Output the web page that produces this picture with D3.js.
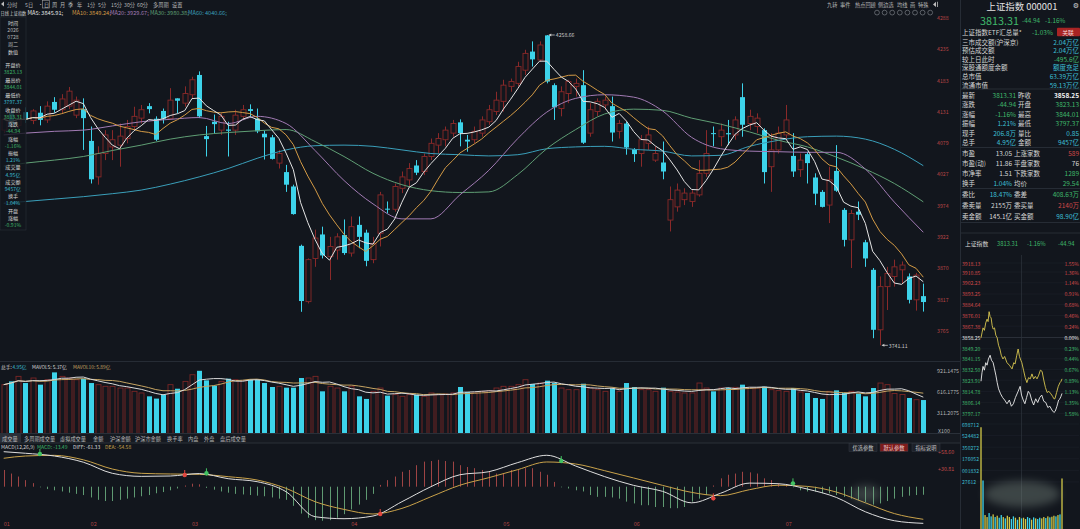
<!DOCTYPE html>
<html>
<head>
<meta charset="utf-8">
<title>上证指数 000001</title>
<script src="https://cdn.jsdelivr.net/npm/d3@7/dist/d3.min.js"></script>
<style>
  body { margin: 0; background: #12161d; overflow: hidden; }
  svg { display: block; font-family: "Noto Sans CJK SC", "Noto Sans", sans-serif; }
</style>
</head>
<body>
<svg id="chart"></svg>
<script>
// ---------- data (daily bars, first bar sits under the info box) ----------
let firstDay = -11;

// [open, high, low, close]
let candles = [
  [4100, 4125, 4095, 4118], [4128, 4135, 4105, 4110], [4108, 4130, 4102, 4126], [4130, 4138, 4112, 4118],
  [4116, 4135, 4110, 4132], [4129, 4140, 4108, 4117], [4117, 4148, 4112, 4140], [4147, 4155, 4129, 4134],
  [4134, 4160, 4128, 4152], [4140, 4172, 4135, 4165], [4125, 4156, 4120, 4150],
  [4135, 4153, 4067, 4120], [4082, 4106, 4011, 4018], [4022, 4073, 4009, 4061], [4061, 4100, 4050, 4092],
  [4072, 4100, 4050, 4084], [4075, 4111, 4039, 4090], [4086, 4117, 4078, 4106], [4106, 4139, 4100, 4123],
  [4120, 4142, 4111, 4134], [4140, 4145, 4128, 4135], [4119, 4123, 4082, 4084], [4132, 4136, 4111, 4119],
  [4119, 4170, 4117, 4150], [4153, 4153, 4128, 4149], [4145, 4173, 4139, 4161], [4159, 4189, 4153, 4184],
  [4192, 4198, 4120, 4123], [4090, 4107, 4056, 4085], [4114, 4126, 4095, 4110], [4100, 4128, 4092, 4123],
  [4101, 4114, 4056, 4099], [4100, 4134, 4092, 4125], [4123, 4142, 4117, 4134], [4135, 4143, 4123, 4132],
  [4119, 4136, 4095, 4098], [4094, 4099, 4051, 4088], [4088, 4092, 4051, 4052], [4045, 4067, 4036, 4061],
  [4030, 4042, 3997, 4009], [4006, 4009, 3959, 3960], [3907, 3909, 3797, 3815], [3814, 3886, 3811, 3884],
  [3886, 3934, 3872, 3920], [3926, 3939, 3886, 3891], [3889, 3922, 3850, 3906], [3900, 3928, 3884, 3922],
  [3925, 3951, 3892, 3895], [3895, 3956, 3889, 3939], [3942, 3956, 3903, 3922], [3929, 3934, 3873, 3882],
  [3884, 3922, 3878, 3911], [3928, 3997, 3906, 3992], [3969, 3981, 3961, 3968], [3968, 4011, 3964, 4006],
  [4003, 4031, 3995, 4022], [4017, 4045, 4006, 4036], [4041, 4050, 4025, 4029], [4031, 4061, 4025, 4056],
  [4056, 4086, 4050, 4078], [4075, 4095, 4061, 4086], [4084, 4106, 4073, 4100], [4095, 4117, 4089, 4111],
  [4113, 4118, 4073, 4095], [4084, 4092, 4064, 4081], [4084, 4106, 4078, 4098], [4095, 4123, 4089, 4117],
  [4114, 4142, 4109, 4134], [4131, 4164, 4125, 4150], [4148, 4184, 4131, 4175], [4173, 4186, 4164, 4181],
  [4178, 4214, 4173, 4206], [4200, 4234, 4192, 4228], [4231, 4248, 4206, 4218], [4217, 4248, 4214, 4242],
  [4258, 4258.66, 4178, 4181], [4175, 4178, 4117, 4138], [4136, 4173, 4123, 4164], [4161, 4184, 4145, 4181],
  [4173, 4186, 4156, 4178], [4175, 4200, 4077, 4079], [4095, 4145, 4089, 4134], [4131, 4153, 4123, 4148],
  [4142, 4156, 4134, 4150], [4140, 4156, 4081, 4096], [4098, 4117, 4086, 4111], [4111, 4114, 4059, 4071],
  [4068, 4070, 4047, 4060], [4061, 4092, 4039, 4084], [4078, 4106, 4067, 4092], [4050, 4073, 4047, 4061],
  [4046, 4081, 4018, 4031], [3950, 4006, 3931, 3984], [3972, 4011, 3964, 4000], [3984, 4003, 3975, 3995],
  [3981, 4000, 3972, 3995], [3992, 4050, 3989, 4028], [4028, 4100, 4022, 4061], [4095, 4106, 4073, 4094],
  [4089, 4111, 4073, 4100], [4095, 4117, 4075, 4093], [4092, 4123, 4084, 4117], [4155, 4178, 4089, 4109],
  [4111, 4134, 4100, 4123], [4106, 4128, 4095, 4120], [4100, 4103, 4011, 4030], [4039, 4095, 3997, 4067],
  [4067, 4106, 4061, 4095], [4092, 4142, 4084, 4117], [4057, 4095, 4022, 4031], [4034, 4061, 4022, 4050],
  [4060, 4064, 4011, 4045], [4021, 4028, 3975, 3994], [3997, 4000, 3971, 3972], [3975, 4039, 3945, 4017],
  [4032, 4075, 3997, 3999], [3967, 3970, 3906, 3917], [3917, 3967, 3870, 3961], [3964, 3981, 3950, 3959],
  [3913, 3917, 3872, 3886], [3867, 3870, 3753, 3767], [3767, 3856, 3741.11, 3839], [3839, 3872, 3800, 3861],
  [3856, 3884, 3839, 3872], [3867, 3881, 3845, 3875], [3856, 3861, 3811, 3817], [3817, 3862, 3799, 3858.25],
  [3823.13, 3844.01, 3797.37, 3813.31]
];

// volume, 百万股 (axis shows x100)
let volumes = [
  719, 767, 840, 743, 816, 719, 791, 898, 840, 816,
  791, 806, 743, 719, 695, 695, 670, 670, 622, 598,
  549, 516, 574, 719, 660, 767, 864, 921.15, 782, 704,
  767, 806, 791, 777, 791, 791, 743, 685, 695, 675,
  675, 816, 816, 840, 622, 695, 670, 622, 695, 549,
  511, 622, 670, 559, 574, 549, 574, 574, 549, 598,
  574, 583, 598, 685, 612, 598, 622, 632, 670, 695,
  695, 719, 791, 728, 743, 777, 743, 670, 646, 646,
  733, 670, 646, 622, 666, 622, 743, 685, 646, 646,
  622, 675, 622, 612, 598, 598, 743, 670, 622, 670,
  670, 680, 719, 670, 670, 690, 646, 632, 622, 670,
  612, 598, 525, 511, 622, 636, 598, 622, 588, 549,
  670, 743, 719, 590, 575, 525, 500, 495
];

// MACD histogram
let macdBars = [
  28, 22, 17, 11, 6, -1, -4, -6, -8, -10,
  -12, -14, -18, -22, -24, -24, -22, -20, -18, -16,
  -14, -11, -9, -6, -3, 2, 5, 4, -2, -5,
  -8, -10, -12, -13, -14, -15, -16, -18, -20, -22,
  -32, -45, -52, -56, -57, -56, -52, -46, -38, -30,
  -22, -12, 3, 11, 17, 25, 28, 36, 42, 43,
  45, 43, 42, 36, 33, 31, 28, 25, 22, 22,
  28, 28, 31, 31, 25, 20, 8, -1, -3, -6,
  -8, -14, -17, -17, -18, -20, -25, -28, -31, -31,
  -34, -34, -36, -36, -34, -25, -20, -14, 2, 14,
  20, 22, 25, 24, 22, 14, 11, 6, 3, -1,
  -6, -8, -8, -11, -11, -14, -17, -20, -23, -26,
  -30, -28, -24, -20, -17, -15, -14, -13.49
];

// long averages and MACD lines, read every 4th session
let sampleDays = [-11, -8, -4, 0, 4, 8, 12, 16, 20, 24, 28, 32, 36, 40, 44, 48, 52, 56,
  60, 64, 68, 72, 76, 80, 84, 88, 92, 96, 100, 104, 108, 112, 116];
let ma20 = [4092, 4095, 4098, 4100, 4107, 4114, 4118, 4121, 4111, 4123, 4111, 4066, 4016, 3977, 3952, 3952, 3992,
  4033, 4086, 4130, 4153, 4159, 4155, 4132, 4088, 4069, 4065, 4064, 4063, 4063, 4035, 3980, 3929.67];
let ma30 = [4040, 4045, 4050, 4056, 4066, 4075, 4085, 4092, 4096, 4099, 4101, 4081, 4056, 4028, 4009, 3999, 3996,
  3997, 4026, 4069, 4101, 4127, 4135, 4133, 4120, 4110, 4097, 4083, 4072, 4055, 4035, 4011, 3980.38];
let ma60 = [3978, 3981, 3985, 3989, 3994, 4000, 4010, 4022, 4036, 4053, 4067, 4074, 4075, 4073, 4067, 4061, 4059,
  4057, 4059, 4069, 4072, 4073, 4068, 4065, 4057, 4058, 4073, 4083, 4089, 4090, 4085, 4068, 4040.66];
let diffLine = [58.6, 56, 51.4, 41, 22.4, 17.3, 17.9, 22, 13.4, 8.4, -8.4, -50.3, -53.6, -49.1, -25.1, 0, 20,
  25.1, 40.4, 52.6, 34.6, 16.8, 2.2, -7.8, -27, -11, 6, 5, -4, -18, -42, -57, -61.33];
let deaLine = [47.6, 51.4, 52.5, 45, 29.6, 22.4, 21.3, 20.7, 16.8, 11.2, -2.8, -25.1, -38, -45.7, -36.3, -16.8, 2.5,
  15.1, 28.6, 41.4, 38, 26.8, 14.6, 2.2, -9.5, -15, -5, 2.5, 0.5, -9, -27, -45, -54.58];

// golden / dead crosses
let crossDays = [-6, 14, 17, 41, 66, 87, 98];
let crossVals = [54.8, 19.6, 22.4, -45.7, 43, -19.5, 5.6];
let crossUp = [false, true, false, true, false, true, false];

let monthDays = [-11, 1, 15, 37, 58, 76, 97];
let monthLabels = ["01", "02", "03", "04", "05", "06", "07"];

let priceTicks = [4288, 4235, 4183, 4131, 4079, 4027, 3974, 3922, 3870, 3817, 3765];
let volTicks = [921.1475, 616.1775, 311.2075];
let macdTicks = [58.60, 30.81];

// intraday (minute, index)
let preClose = 3858.25;
let whiteMinutes = [[0, 3823.1], [3, 3830], [6, 3835], [10, 3832], [14, 3838], [18, 3836], [22, 3841], [27, 3844],
  [31, 3840], [36, 3838], [40, 3833], [44, 3828], [48, 3822], [52, 3817], [58, 3813], [64, 3810], [70, 3808],
  [77, 3805], [84, 3808], [90, 3803], [96, 3805], [102, 3810], [110, 3815], [116, 3819], [120, 3812], [125, 3808],
  [130, 3805], [135, 3810], [140, 3815], [145, 3813], [150, 3808], [156, 3804], [162, 3809], [168, 3806],
  [174, 3810], [180, 3812], [186, 3807], [192, 3806], [198, 3802], [204, 3803], [210, 3800], [216, 3798],
  [220, 3799], [225, 3803], [230, 3808], [234, 3809], [237, 3811], [240, 3813.31]];
let yellowMinutes = [[0, 3858], [3, 3862], [6, 3866], [10, 3864], [14, 3870], [18, 3873], [21, 3871], [24, 3879],
  [27, 3875], [30, 3874], [33, 3868], [36, 3865], [40, 3866], [44, 3860], [48, 3858], [52, 3852], [56, 3849],
  [60, 3844], [65, 3841], [70, 3843], [77, 3838], [84, 3836], [92, 3833], [97, 3838], [101, 3837], [106, 3844],
  [110, 3849], [114, 3843], [118, 3840], [121, 3838], [126, 3832], [131, 3826], [136, 3822], [141, 3826],
  [146, 3825], [151, 3829], [156, 3825], [161, 3827], [166, 3825], [171, 3828], [176, 3832], [181, 3831],
  [186, 3824], [191, 3818], [196, 3814], [201, 3815], [207, 3813], [212, 3811], [216, 3809], [219, 3809],
  [224, 3814], [229, 3819], [234, 3822], [237, 3823], [240, 3825]];
let miniVolumes = [1650000, 850000, 330000, 300000, 360000, 310000, 340000, 300000, 320000, 290000, 330000,
  300000, 280000, 320000, 300000, 270000, 310000, 290000, 260000, 300000, 280000, 290000, 270000, 300000,
  285000, 260000, 295000, 280000, 270000, 290000, 280000, 300000, 285000, 310000, 295000, 305000, 320000,
  310000, 330000, 340000, 880000];
let miniUp = [1, 0, 1, 1, 0, 0, 1, 0, 1, 0, 0, 1, 0, 1, 1, 0, 0, 1, 0, 1, 0, 1, 1, 0, 0, 1, 0, 1, 0, 0, 1, 1, 0,
  1, 0, 1, 1, 0, 1, 0, 1];
let miniPriceLabels = [3918.13, 3910.85, 3902.23, 3893.25, 3884.64, 3876.01, 3867.38, 3858.25, 3849.20, 3841.15,
  3832.50, 3823.91, 3814.78, 3806.14, 3797.17];
let miniPctLabels = ["1.55%", "1.36%", "1.14%", "0.91%", "0.68%", "0.46%", "0.24%", "0.00%", "0.23%", "0.44%",
  "0.67%", "0.89%", "1.13%", "1.35%", "1.58%"];
let miniVolLabels = [1698712, 1524482, 1350272, 1176052, 1001832, 827612];

// text blocks
let toolbarLeft = ["分时", "5日", "·", "日", "周", "月", "季", "年", "1分", "5分", "15分", "30分", "60分", "多周期", "设置"];
let toolbarRight = ["九转", "事件", "热点回顾", "侧边选", "均线", "画", "特殊"];
let maHeader = ["MA5: 3845.91;", "MA10: 3849.24;", "MA20: 3929.67;", "MA30: 3980.38;", "MA60: 4040.66;"];
let infoRows = ["时间", "2026", "0728", "周二", "数值", "开盘价", "3823.13", "最高价", "3844.01", "最低价", "3797.37",
  "收盘价", "3813.31", "涨跌", "-44.94", "涨幅", "-1.16%", "振幅", "1.21%", "成交量", "4.95亿", "成交额", "9457亿",
  "换手", "1.04%", "开盘", "涨幅", "-0.91%"];
let volTabs = ["成交量", "多周期成交量", "虚拟成交量", "金额", "沪深金额", "沪深市金额", "换手率", "内盘", "外盘", "盘后成交量"];
let summaryRows = [
  ["上证指数ETF汇总量*", "-1.03%"], ["三市成交额(沪深京)", "2.04万亿"], ["预估成交额", "2.04万亿"],
  ["较上日此时", "-495.6亿"], ["深股通额度余额", "额度充足"], ["总市值", "63.39万亿"], ["流通市值", "59.13万亿"]
];
let quoteRows = [
  ["最新", "3813.31", "昨收", "3858.25"], ["涨跌", "-44.94", "开盘", "3823.13"], ["涨幅", "-1.16%", "最高", "3844.01"],
  ["振幅", "1.21%", "最低", "3797.37"], ["现手", "206.8万", "量比", "0.85"], ["总手", "4.95亿", "金额", "9457亿"]
];
let valuationRows = [
  ["市盈", "13.05", "上涨家数", "589"], ["市盈(动)", "11.86", "平盘家数", "76"],
  ["市净率", "1.51", "下跌家数", "1289"], ["换手", "1.04%", "均价", "29.54"]
];
let orderRows = [
  ["委比", "18.47%", "委差", "408.63万"], ["委卖量", "2155万", "委买量", "2140万"], ["卖金额", "145.1亿", "买金额", "98.90亿"]
];

// ---------- drawing ----------
let width = 1080;
let height = 529;
let FONT = '"Noto Sans CJK SC", "Noto Sans", sans-serif';
let BG = "#12161d";
let CYAN = "#3dd3ea";
let RED = "#8a2929";
let GREEN = "#3fb86b";
let TEAL = "#3cbfd4";
let WHITE = "#d6d6d6";
let UPRED = "#d04848";

let svg = d3.select("#chart").attr("width", width).attr("height", height);
svg.append("rect").attr("width", width).attr("height", height).attr("fill", BG);

let defs = svg.append("defs");
defs.append("clipPath").attr("id", "mainClip").append("rect")
  .attr("x", 0).attr("y", 15).attr("width", 935).attr("height", 346);
defs.append("filter").attr("id", "blur").attr("x", "-50%").attr("y", "-50%").attr("width", "200%").attr("height", "200%")
  .append("feGaussianBlur").attr("stdDeviation", 4);

let label = (g, x, y, s, fill, size, anchor) =>
  g.append("text").attr("x", x).attr("y", y).attr("fill", fill).attr("font-size", size)
    .attr("text-anchor", anchor || "start").attr("dominant-baseline", "central").text(s);

let day = (i) => i + firstDay;
let isDown = (i) => candles[i][3] < candles[i][0];

// scales
let xScale = d3.scaleLinear().domain([-11, 116]).range([3.7, 923.3]);
let yPrice = d3.scaleLinear().domain([3765, 4288]).range([331, 17.4]);
let yVol = d3.scaleLinear().domain([0, 921.1475]).range([434, 370.8]);
let yMacd = d3.scaleLinear().domain([0, 58.6]).range([486.7, 451.7]);

let rollMean = (arr, n) => arr.map((v, i) => d3.mean(arr.slice(Math.max(0, i - n + 1), i + 1)));
let closes = candles.map((d) => d[3]);

// ---- main candle panel ----
let mainG = svg.append("g").attr("clip-path", "url(#mainClip)");

mainG.selectAll(".wick").data(candles).enter().append("line")
  .attr("x1", (d, i) => Math.round(xScale(day(i))) + 0.5)
  .attr("x2", (d, i) => Math.round(xScale(day(i))) + 0.5)
  .attr("y1", (d) => yPrice(d[1]))
  .attr("y2", (d) => yPrice(d[2]))
  .attr("stroke", (d, i) => (isDown(i) ? CYAN : RED))
  .attr("stroke-width", 1);

mainG.selectAll(".body").data(candles).enter().append("rect")
  .attr("x", (d, i) => Math.round(xScale(day(i))) - 2)
  .attr("width", 5)
  .attr("y", (d) => yPrice(Math.max(d[0], d[3])))
  .attr("height", (d) => Math.max(1, Math.abs(yPrice(d[0]) - yPrice(d[3]))))
  .attr("fill", (d, i) => (isDown(i) ? CYAN : BG))
  .attr("stroke", (d, i) => (isDown(i) ? CYAN : RED))
  .attr("stroke-width", (d, i) => (isDown(i) ? 0 : 0.9));

let linePts = d3.line().x((d) => xScale(d[0])).y((d) => yPrice(d[1]));
let ma5 = rollMean(closes, 5);
let ma10 = rollMean(closes, 10);

let drawSampled = (vals, color) => {
  mainG.append("path")
    .datum(sampleDays.map((k, i) => [k, vals[i]]))
    .attr("d", linePts.curve(d3.curveMonotoneX))
    .attr("fill", "none").attr("stroke", color).attr("stroke-width", 1);
};
drawSampled(ma60, "#3a9fba");
drawSampled(ma30, "#5f9e74");
drawSampled(ma20, "#a27bb4");

mainG.append("path")
  .datum(ma10.map((v, i) => [day(i), v]))
  .attr("d", linePts.curve(d3.curveLinear))
  .attr("fill", "none").attr("stroke", "#d39a45").attr("stroke-width", 1);
mainG.append("path")
  .datum(ma5.map((v, i) => [day(i), v]))
  .attr("d", linePts.curve(d3.curveLinear))
  .attr("fill", "none").attr("stroke", "#e4e4e4").attr("stroke-width", 1);

// extreme price marks
let hiI = d3.maxIndex(candles, (d) => d[1]);
let loI = d3.minIndex(candles, (d) => d[2]);
[[hiI, candles[hiI][1]], [loI, candles[loI][2]]].forEach(([i, v]) => {
  let cx = xScale(day(i));
  let cy = yPrice(v);
  svg.append("line").attr("x1", cx + 2).attr("x2", cx + 8).attr("y1", cy).attr("y2", cy)
    .attr("stroke", "#c8c8c8").attr("stroke-width", 0.8);
  svg.append("path").attr("d", `M${cx + 2},${cy} l2.5,-1.5 v3 z`).attr("fill", "#c8c8c8");
  label(svg, cx + 9, cy, v.toFixed(2), "#c8c8c8", 5.2);
});

// price axis
svg.append("g").attr("transform", "translate(937,0)")
  .call(d3.axisRight(yPrice).tickValues(priceTicks).tickSize(0).tickPadding(0).tickFormat(d3.format("d")))
  .call((g) => g.select(".domain").remove())
  .attr("font-family", FONT).attr("font-size", 5.2)
  .call((g) => g.selectAll("text").attr("fill", "#b84545"));

// ---- separators ----
svg.append("line").attr("x1", 0).attr("x2", 960).attr("y1", 361.5).attr("y2", 361.5).attr("stroke", "#262c35");
svg.append("line").attr("x1", 960.5).attr("x2", 960.5).attr("y1", 0).attr("y2", height).attr("stroke", "#262c35");

// ---- volume panel ----
let volG = svg.append("g");
volG.selectAll("rect").data(volumes).enter().append("rect")
  .attr("x", (d, i) => Math.round(xScale(day(i))) - 2)
  .attr("width", 5)
  .attr("y", (d) => yVol(d))
  .attr("height", (d) => yVol(0) - yVol(d))
  .attr("fill", (d, i) => (isDown(i) ? CYAN : "none"))
  .attr("stroke", (d, i) => (isDown(i) ? "none" : "#7c2626"))
  .attr("stroke-width", 0.9);

let volLine = d3.line().x((d, i) => xScale(day(i))).y((d) => yVol(d));
volG.append("path").datum(rollMean(volumes, 10)).attr("d", volLine)
  .attr("fill", "none").attr("stroke", "#c6a462").attr("stroke-width", 1);
volG.append("path").datum(rollMean(volumes, 5)).attr("d", volLine)
  .attr("fill", "none").attr("stroke", "#d8d8d8").attr("stroke-width", 1);

svg.append("g").attr("transform", "translate(937,0)")
  .call(d3.axisRight(yVol).tickValues(volTicks).tickSize(0).tickPadding(0).tickFormat((d) => d.toFixed(4)))
  .call((g) => g.select(".domain").remove())
  .attr("font-family", FONT).attr("font-size", 5.3)
  .call((g) => g.selectAll("text").attr("fill", "#b5b5b5"));
label(svg, 938, 431, "X100", "#b5b5b5", 5.3);

label(svg, 1, 366.5, "总手:", WHITE, 4.8);
label(svg, 12.5, 366.5, "4.95亿", TEAL, 4.8);
label(svg, 32, 366.5, "MAVOL5: 5.37亿", "#d8d8d8", 4.8);
label(svg, 73, 366.5, "MAVOL10: 5.89亿", "#c6a462", 4.8);

// tab row
svg.append("rect").attr("x", 0).attr("y", 433.5).attr("width", 960).attr("height", 9.5).attr("fill", "#161a21");
svg.append("line").attr("x1", 0).attr("x2", 960).attr("y1", 433.5).attr("y2", 433.5).attr("stroke", "#2a3039");
svg.append("line").attr("x1", 0).attr("x2", 960).attr("y1", 443).attr("y2", 443).attr("stroke", "#2a3039");
let tabX = [2, 24, 60, 93, 110, 135, 167, 188, 204, 220];
svg.append("rect").attr("x", 0).attr("y", 434).attr("width", 21).attr("height", 8.5).attr("fill", "#2b3039");
volTabs.forEach((t, i) => label(svg, tabX[i], 438.3, t, "#bcbcbc", 5.2));

// ---- MACD panel ----
let macdG = svg.append("g");
macdG.selectAll("line").data(macdBars).enter().append("line")
  .attr("x1", (d, i) => Math.round(xScale(day(i))) + 0.5)
  .attr("x2", (d, i) => Math.round(xScale(day(i))) + 0.5)
  .attr("y1", yMacd(0))
  .attr("y2", (d) => yMacd(d))
  .attr("stroke", (d) => (d >= 0 ? "#9e4444" : "#5f9a72"))
  .attr("stroke-width", 1);

let macdLine = d3.line().x((d) => xScale(d[0])).y((d) => yMacd(d[1])).curve(d3.curveMonotoneX);
macdG.append("path").datum(sampleDays.map((k, i) => [k, deaLine[i]])).attr("d", macdLine)
  .attr("fill", "none").attr("stroke", "#c9a24a").attr("stroke-width", 1);
macdG.append("path").datum(sampleDays.map((k, i) => [k, diffLine[i]])).attr("d", macdLine)
  .attr("fill", "none").attr("stroke", "#dedede").attr("stroke-width", 1);

crossDays.forEach((k, i) => {
  let cx = xScale(k);
  let cy = yMacd(crossVals[i]);
  let c = crossUp[i] ? "#e0463e" : "#43c262";
  macdG.append("line").attr("x1", cx).attr("x2", cx).attr("y1", cy - 5).attr("y2", cy + 2)
    .attr("stroke", c).attr("stroke-width", 1);
  macdG.append("circle").attr("cx", cx).attr("cy", cy).attr("r", 2.2).attr("fill", c);
});

svg.append("g").attr("transform", "translate(938,0)")
  .call(d3.axisRight(yMacd).tickValues(macdTicks).tickSize(0).tickPadding(0).tickFormat((d) => "+" + d.toFixed(2)))
  .call((g) => g.select(".domain").remove())
  .attr("font-family", FONT).attr("font-size", 5.3)
  .call((g) => g.selectAll("text").attr("fill", "#c24a4a"));

label(svg, 1, 446.5, "MACD(12,26,9)", "#cfcfcf", 5);
label(svg, 37, 446.5, "MACD: -13.49", GREEN, 5);
label(svg, 73, 446.5, "DIFF: -61.33", "#dedede", 5);
label(svg, 105, 446.5, "DEA: -54.58", "#c9a24a", 5);

let btns = [["优选参数", 849, "#1d2129", "#c8c8c8"], ["默认参数", 880, "#7d1c1c", "#f0d0d0"], ["指标说明", 912, "#1d2129", "#c8c8c8"]];
btns.forEach(([t, x, bg, fg]) => {
  svg.append("rect").attr("x", x).attr("y", 443.5).attr("width", 28).attr("height", 8).attr("fill", bg)
    .attr("stroke", "#343a44").attr("stroke-width", 0.5);
  label(svg, x + 14, 447.6, t, fg, 5.2, "middle");
});

// month labels
svg.append("g").attr("transform", "translate(0,522)")
  .call(d3.axisBottom(xScale).tickValues(monthDays).tickSize(0).tickPadding(0).tickFormat((d, i) => monthLabels[i]))
  .call((g) => g.select(".domain").remove())
  .attr("font-family", FONT).attr("font-size", 5.5)
  .call((g) => g.selectAll("text").attr("fill", "#b04444").attr("text-anchor", "start").attr("dx", "-0.5"));

// ---- left info box ----
svg.append("rect").attr("x", 0).attr("y", 17).attr("width", 26).attr("height", 213)
  .attr("fill", BG).attr("fill-opacity", 0.82).attr("stroke", "#2f353e").attr("stroke-width", 0.5);
let infoY = [22, 29.3, 36.5, 43.8, 51, 64, 71.5, 79, 86.5, 94, 101.5, 109, 116.3, 123.6, 130.8, 138, 145.2, 152.4,
  159.6, 166.8, 174, 181.2, 188.4, 195.6, 202.8, 210, 217.2, 224.4];
let infoColor = (s, i) => {
  if (i < 5) return i === 0 || i === 4 ? WHITE : "#b8b8b8";
  if (/^[\u4e00-\u9fa5]/.test(s)) return WHITE;
  if (s.startsWith("-") || /^38/.test(s)) return GREEN;
  return TEAL;
};
infoRows.forEach((s, i) => label(svg, 13, infoY[i], s, infoColor(s, i), 5.1, "middle"));

// ---- top toolbars ----
let tbX = [7, 25, 38, 44, 52, 60, 68, 77, 87, 98, 111, 124, 137, 153, 172];
svg.append("path").attr("d", "M1,1.5 l3,2.5 l-3,2.5 z").attr("fill", "#bbbbbb").attr("transform", "translate(5,0) scale(-1,1)");
svg.append("rect").attr("x", 42.5).attr("y", 0.6).attr("width", 7).attr("height", 7.4)
  .attr("fill", "none").attr("stroke", "#9a9a9a").attr("stroke-width", 0.6);
toolbarLeft.forEach((t, i) => label(svg, tbX[i], 4.4, t, "#b8b8b8", 5.2));

let trX = [827, 840, 855, 878, 897, 910, 918];
toolbarRight.forEach((t, i) => label(svg, trX[i], 4.4, t, "#b8b8b8", 5.2));
svg.append("path").attr("d", "M936,1.8 l-3,2.6 l3,2.6 z M937,1.8 h0.8 v5.2 h-0.8 z").attr("fill", "#bbbbbb");
d3.range(8).forEach((i) => {
  svg.append("circle").attr("cx", 877 + i * 7.6).attr("cy", 12.6).attr("r", 2.4)
    .attr("fill", "none").attr("stroke", "#8a8f96").attr("stroke-width", 0.6);
});

label(svg, 0.5, 12.8, "日线", WHITE, 4.2);
label(svg, 9.5, 12.8, "上证指数", WHITE, 4.2);
let maX = [27.5, 72, 110, 150, 188];
let maColors = ["#e4e4e4", "#d39a45", "#a27bb4", "#5f9e74", "#3a9fba"];
maHeader.forEach((t, i) => label(svg, maX[i], 12.8, t, maColors[i], 5.6));

// ---- right quote panel ----
let rp = svg.append("g");
label(rp, 1022, 5.6, "上证指数 000001", "#e2e2e2", 9.4, "middle");
rp.append("text").attr("x", 1076).attr("y", 5.6).attr("dominant-baseline", "central").attr("text-anchor", "middle")
  .attr("font-family", "DejaVu Sans").attr("font-size", 7).attr("fill", "#cfcfcf").text("⚙");
label(rp, 980, 20.2, "3813.31", GREEN, 10.8);
label(rp, 1022, 20.5, "-44.94", GREEN, 6.3);
label(rp, 1045, 20.5, "-1.16%", GREEN, 6.3);

let summaryY = [32, 41.5, 50, 58.8, 67.4, 76, 84.8];
let summaryColors = [GREEN, TEAL, TEAL, GREEN, TEAL, TEAL, TEAL];
summaryRows.forEach((r, i) => {
  label(rp, 962, summaryY[i], r[0], WHITE, 6.5);
  if (i === 0) {
    label(rp, 1032, summaryY[i], r[1], summaryColors[i], 6.5);
    rp.append("rect").attr("x", 1057).attr("y", 27.8).attr("width", 23).attr("height", 8.4).attr("fill", "#a82424").attr("rx", 1);
    label(rp, 1068, 32, "关联", "#f4dada", 5.8, "middle");
  } else {
    label(rp, 1079, summaryY[i], r[1], summaryColors[i], 6.5, "end");
  }
});

let drawGrid = (rows, ys, colors, v1x, l2x) => {
  rows.forEach((r, i) => {
    label(rp, 962, ys[i], r[0], WHITE, 6.5);
    label(rp, v1x, ys[i], r[1], colors[i][0], 6.5, "end");
    label(rp, l2x, ys[i], r[2], WHITE, 6.5);
    label(rp, 1079, ys[i], r[3], colors[i][1], 6.5, "end").attr("font-weight", i === 0 && rows === quoteRows ? 700 : null);
  });
};
drawGrid(quoteRows, [95, 104.4, 113.8, 123.2, 132.6, 142],
  [[GREEN, "#f2f2f2"], [GREEN, GREEN], [GREEN, GREEN], [TEAL, GREEN], [TEAL, TEAL], [TEAL, TEAL]], 1016, 1018);
drawGrid(valuationRows, [153, 163, 173, 183],
  [[WHITE, UPRED], [WHITE, WHITE], [WHITE, GREEN], [TEAL, GREEN]], 1012, 1014);
drawGrid(orderRows, [194, 205, 216],
  [[TEAL, GREEN], [WHITE, UPRED], [WHITE, TEAL]], 1012, 1014);

[89, 147.5, 188.5, 222.5, 233].forEach((y) => {
  rp.append("line").attr("x1", 961).attr("x2", width).attr("y1", y).attr("y2", y).attr("stroke", "#262c35");
});

// ---- intraday mini chart ----
let miniX = d3.scaleLinear().domain([0, 240]).range([981, 1062]);
let miniY = d3.scaleLinear().domain([3797.17, 3918.13]).range([413.5, 263]);
let miniVolY = d3.scaleLinear().domain([0, 1698712]).range([537, 424]);

label(rp, 965, 243, "上证指数", WHITE, 5.8);
label(rp, 997, 243, "3813.31", GREEN, 5.8);
label(rp, 1027, 243, "-1.16%", GREEN, 5.8);
label(rp, 1058, 243, "-44.94", GREEN, 5.8);

miniPriceLabels.forEach((v) => {
  rp.append("line").attr("x1", 961).attr("x2", 1079).attr("y1", miniY(v)).attr("y2", miniY(v))
    .attr("stroke", v === preClose ? "#3a414b" : "#1c222a").attr("stroke-width", 0.6);
});
miniVolLabels.forEach((v) => {
  rp.append("line").attr("x1", 961).attr("x2", 1079).attr("y1", miniVolY(v)).attr("y2", miniVolY(v))
    .attr("stroke", "#1c222a").attr("stroke-width", 0.6);
});
rp.append("line").attr("x1", miniX(120)).attr("x2", miniX(120)).attr("y1", 255).attr("y2", height)
  .attr("stroke", "#2c333c").attr("stroke-width", 0.7);

let miniBarW = 1.3;
rp.selectAll(".mv").data(miniVolumes).enter().append("rect")
  .attr("x", (d, i) => miniX(i * 6) - miniBarW / 2)
  .attr("width", miniBarW)
  .attr("y", (d) => miniVolY(d))
  .attr("height", (d) => miniVolY(0) - miniVolY(d))
  .attr("fill", (d, i) => (miniUp[i] ? "#d2c848" : CYAN));

let miniLine = d3.line().x((d) => miniX(d[0])).y((d) => miniY(d[1]));
rp.append("path").datum(yellowMinutes).attr("d", miniLine).attr("fill", "none").attr("stroke", "#d8c650").attr("stroke-width", 0.9);
rp.append("path").datum(whiteMinutes).attr("d", miniLine).attr("fill", "none").attr("stroke", "#ececec").attr("stroke-width", 0.9);

miniPriceLabels.forEach((v, i) => {
  let c = v > preClose ? UPRED : v === preClose ? "#e6e6e6" : GREEN;
  label(rp, 962, miniY(v), v.toFixed(2), c, 5.1);
  label(rp, 1079, miniY(v), miniPctLabels[i], c, 5.1, "end");
});
miniVolLabels.forEach((v) => {
  label(rp, 962, miniVolY(v), String(v).slice(1), TEAL, 5.1);
});

// faint watermark blur near the bottom
svg.append("ellipse").attr("cx", 1022).attr("cy", 494).attr("rx", 38).attr("ry", 13)
  .attr("fill", "#8c9c92").attr("opacity", 0.35).attr("filter", "url(#blur)");
svg.append("ellipse").attr("cx", 866).attr("cy", 494).attr("rx", 15).attr("ry", 9)
  .attr("fill", "#8c9c92").attr("opacity", 0.3).attr("filter", "url(#blur)");
</script>
</body>
</html>
